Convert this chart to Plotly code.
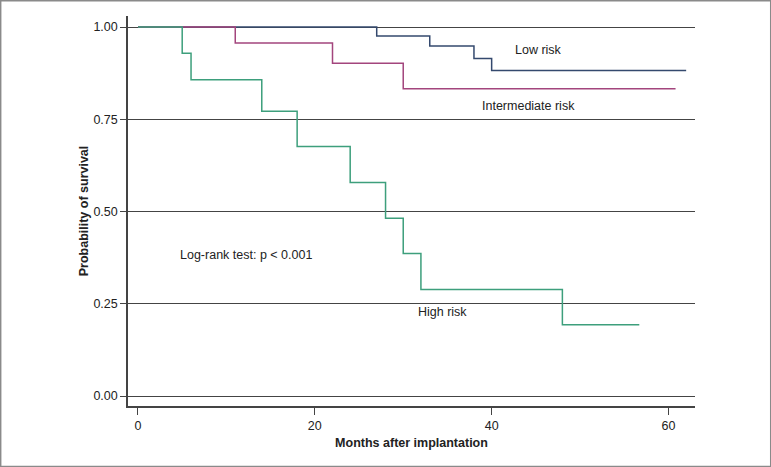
import plotly.graph_objects as go

# Kaplan-Meier step data (months, survival probability)
low_months = [0, 27, 33, 38, 40, 62]
low_surv = [1.0, 0.976, 0.949, 0.915, 0.882, 0.882]

mid_months = [0, 11, 22, 30, 60.8]
mid_surv = [1.0, 0.957, 0.902, 0.833, 0.833]

high_months = [0, 5, 6, 14, 18, 24, 28, 30, 32, 48, 56.7]
high_surv = [1.0, 0.929, 0.857, 0.772, 0.676, 0.579, 0.482, 0.386, 0.289, 0.193, 0.193]

y_ticks = [0, 0.25, 0.5, 0.75, 1.0]
y_tick_text = ["0.00", "0.25", "0.50", "0.75", "1.00"]
x_ticks = [0, 20, 40, 60]

FONT = "Liberation Sans Narrow, Arial Narrow, Liberation Sans, Arial, sans-serif"

fig = go.Figure()

fig.add_trace(go.Scatter(x=low_months, y=low_surv, mode="lines", line_shape="hv",
                         line=dict(color="#34496e", width=1.5), name="Low risk"))
fig.add_trace(go.Scatter(x=mid_months, y=mid_surv, mode="lines", line_shape="hv",
                         line=dict(color="#a3457d", width=1.5), name="Intermediate risk"))
fig.add_trace(go.Scatter(x=high_months, y=high_surv, mode="lines", line_shape="hv",
                         line=dict(color="#3d9f7c", width=1.5), name="High risk"))

# labels inside the plot
labels = [
    (45.3, 0.937, "Low risk"),
    (44.2, 0.785, "Intermediate risk"),
    (34.4, 0.228, "High risk"),
    (12.2, 0.383, "Log-rank test: p < 0.001"),
]
for lx, ly, txt in labels:
    fig.add_annotation(x=lx, y=ly, text=txt, showarrow=False,
                       font=dict(size=12.5, color="#222"))

# grey frame around the whole picture
fig.add_shape(type="rect", xref="paper", yref="paper",
              x0=-0.2250, x1=1.1340, y0=-0.1560, y1=1.0398,
              line=dict(color="#8a8a8a", width=2))

fig.update_layout(
    width=771,
    height=467,
    margin=dict(l=128, r=76, t=16, b=61, autoexpand=False),
    plot_bgcolor="white",
    paper_bgcolor="white",
    showlegend=False,
    font=dict(family=FONT, size=12.5, color="#222"),
)

fig.update_xaxes(
    automargin=False,
    range=[-1.13, 63.0],
    tickvals=x_ticks,
    showgrid=False,
    zeroline=False,
    showline=True,
    linecolor="#444",
    linewidth=1.5,
    ticks="outside",
    ticklen=7,
    tickcolor="#444",
    tickfont=dict(size=12.5),
    title=dict(text="<b>Months after implantation</b>", font=dict(size=12.5), standoff=6),
)

fig.update_yaxes(
    automargin=False,
    range=[-0.027, 1.030],
    tickvals=y_ticks,
    ticktext=y_tick_text,
    showgrid=True,
    gridcolor="#444",
    gridwidth=1,
    zeroline=False,
    showline=True,
    linecolor="#444",
    linewidth=1.5,
    ticks="outside",
    ticklen=6,
    tickcolor="#444",
    tickfont=dict(size=12.5),
    title=dict(text="<b>Probability of survival</b>", font=dict(size=12.5), standoff=2),
)

# the page body has a default 8px margin; drop it so the figure sits at the corner
fig.write_html("out.html", config={"displayModeBar": False},
               post_script="document.body.style.margin = '0';")
